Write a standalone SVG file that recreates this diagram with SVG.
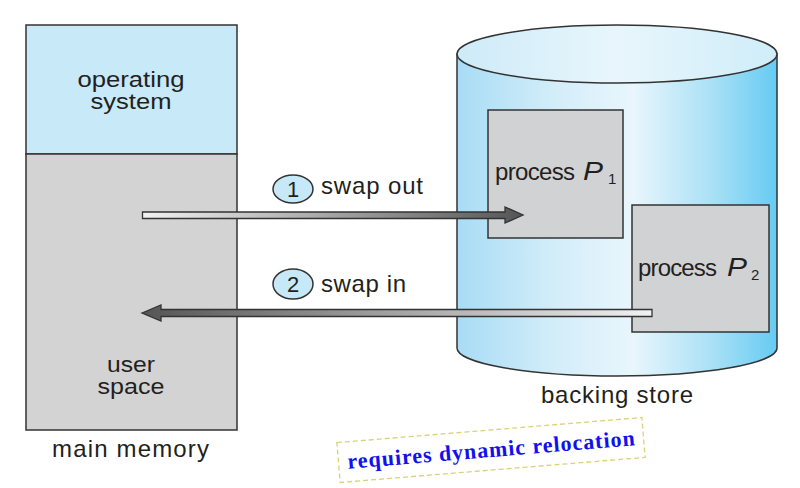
<svg xmlns="http://www.w3.org/2000/svg" width="800" height="488" viewBox="0 0 800 488">
<defs>
<style>
.t{font-family:"Liberation Sans",Arial,sans-serif;font-size:24px;fill:#231f20}
.m{font-size:22px}
.p{font-style:italic;font-size:25px}
.sub{font-family:"Liberation Sans",Arial,sans-serif;font-size:15px;fill:#231f20}
.box{stroke:#333;stroke-width:1.5}
.num{font-family:"Liberation Sans",Arial,sans-serif;font-size:22px;fill:#231f20;text-anchor:middle}
.circ{fill:#c6e8f7;stroke:#333;stroke-width:1.5}
.note{font-family:"Liberation Serif","Times New Roman",serif;font-weight:bold;font-size:22px;fill:#1010f0;text-anchor:middle}
</style>
<linearGradient id="body" x1="0" y1="0" x2="1" y2="0">
<stop offset="0" stop-color="#a8dcf5"/>
<stop offset="0.3" stop-color="#d2edf9"/>
<stop offset="0.55" stop-color="#e9f6fc"/>
<stop offset="0.8" stop-color="#a9e0f6"/>
<stop offset="1" stop-color="#66cbf3"/>
</linearGradient>
<linearGradient id="lid" x1="0" y1="0" x2="1" y2="0">
<stop offset="0" stop-color="#cdebf8"/>
<stop offset="0.5" stop-color="#e8f6fc"/>
<stop offset="1" stop-color="#cfedf9"/>
</linearGradient>
<linearGradient id="out" x1="0" y1="0" x2="1" y2="0">
<stop offset="0" stop-color="#f2f2f2"/>
<stop offset="1" stop-color="#555"/>
</linearGradient>
<linearGradient id="in" x1="0" y1="0" x2="1" y2="0">
<stop offset="0" stop-color="#555"/>
<stop offset="1" stop-color="#f2f2f2"/>
</linearGradient>
</defs>
<rect width="800" height="488" fill="#fff"/>

<g id="main-memory">
<rect x="26" y="25" width="211" height="129" fill="#c8e9f8" class="box"/>
<rect x="26" y="154" width="211" height="276" fill="#d3d3d4" class="box"/>
<text class="t m" x="131" y="87" text-anchor="middle" textLength="107" lengthAdjust="spacingAndGlyphs">operating</text>
<text class="t m" x="131" y="109" text-anchor="middle" textLength="81" lengthAdjust="spacingAndGlyphs">system</text>
<text class="t m" x="131" y="372" text-anchor="middle" textLength="48" lengthAdjust="spacingAndGlyphs">user</text>
<text class="t m" x="131" y="394" text-anchor="middle" textLength="67" lengthAdjust="spacingAndGlyphs">space</text>
<text class="t" x="52" y="457" textLength="157">main memory</text>
</g>

<g id="backing-store">
<path d="M457 54 L457 348 A160 28 0 0 0 777 348 L777 54 Z" fill="url(#body)" class="box"/>
<ellipse cx="617" cy="54" rx="160" ry="29" fill="url(#lid)" class="box"/>
<text class="t" x="541" y="403" textLength="152">backing store</text>
</g>

<g id="process-p1">
<rect x="488" y="110" width="135" height="128" fill="#d1d2d4" class="box"/>
<text class="t" x="495" y="180" textLength="80">process</text>
<text class="t p" x="583" y="180" textLength="20" lengthAdjust="spacingAndGlyphs">P</text>
<text class="sub" x="608" y="184">1</text>
</g>

<g id="process-p2">
<rect x="632" y="205" width="137" height="127" fill="#d1d2d4" class="box"/>
<text class="t" x="638" y="276" textLength="79">process</text>
<text class="t p" x="727" y="276" textLength="20" lengthAdjust="spacingAndGlyphs">P</text>
<text class="sub" x="751" y="280">2</text>
</g>

<g id="connectors">
<g id="swap-out">
<path d="M142.5 212 L505 212 L505 207 L523 215 L505 223 L505 218.5 L142.5 218.5 Z" fill="url(#out)" stroke="#333" stroke-width="1.3"/>
<ellipse class="circ" cx="293" cy="189" rx="20" ry="14"/>
<text class="num" x="293" y="197">1</text>
<text class="t" x="321" y="194" textLength="102">swap out</text>
</g>
<g id="swap-in">
<path d="M142 313 L161 305 L161 309.5 L652 309.5 L652 316.5 L161 316.5 L161 321 Z" fill="url(#in)" stroke="#333" stroke-width="1.3"/>
<ellipse class="circ" cx="293" cy="284" rx="20" ry="15"/>
<text class="num" x="293" y="292">2</text>
<text class="t" x="321" y="292" textLength="85">swap in</text>
</g>
</g>

<g id="note" transform="translate(491 450) rotate(-4.7)">
<rect x="-153" y="-20" width="306" height="40" fill="#fff" stroke="#d8d27a" stroke-width="1.3" stroke-dasharray="5 3"/>
<text class="note" x="0" y="7" textLength="288">requires dynamic relocation</text>
</g>
</svg>
